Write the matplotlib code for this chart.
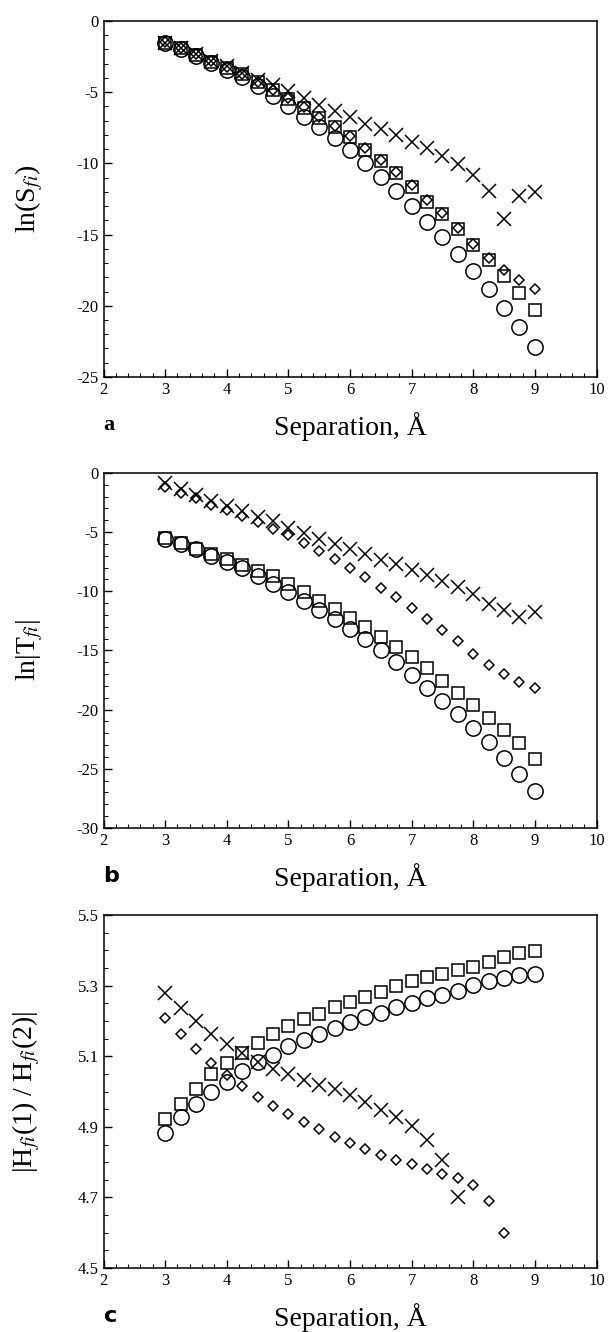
import matplotlib
matplotlib.use("Agg")
import matplotlib.pyplot as plt
import numpy as np
from matplotlib.ticker import MultipleLocator, FixedLocator, FormatStrFormatter

plt.rcParams['font.family'] = ['Liberation Serif', 'DejaVu Serif']
plt.rcParams['mathtext.fontset'] = 'stix'

# separation values, 3 to 9 A in steps of 0.25
sep = np.arange(3.0, 9.01, 0.25)

# panel a: ln(S_fi)
a_cross = [-1.53, -1.93, -2.34, -2.79, -3.2, -3.66, -4.14, -4.5, -4.91, -5.43, -5.9, -6.3, -6.76,
           -7.23, -7.61, -8.0, -8.52, -8.94, -9.48, -10.05, -10.82, -11.94, -13.9, -12.27, -12.03]
a_square = [-1.53, -1.93, -2.39, -2.85, -3.31, -3.76, -4.32, -4.88, -5.49, -6.13, -6.83, -7.46, -8.17,
            -9.06, -9.87, -10.7, -11.63, -12.69, -13.58, -14.63, -15.73, -16.78, -17.9, -19.12, -20.3]
a_diamond = [-1.47, -1.88, -2.34, -2.8, -3.25, -3.71, -4.27, -4.83, -5.39, -6.05, -6.73, -7.37, -8.06,
             -8.95, -9.76, -10.6, -11.53, -12.59, -13.48, -14.54, -15.64, -16.68, -17.49, -18.2, -18.81]
a_circle = [-1.57, -1.99, -2.46, -2.93, -3.44, -3.96, -4.57, -5.27, -5.97, -6.72, -7.42, -8.24, -9.06,
            -10.0, -10.93, -11.92, -12.97, -14.1, -15.19, -16.38, -17.53, -18.85, -20.18, -21.52, -22.9]

# panel b: ln|T_fi|
b_cross = [-0.87, -1.37, -1.84, -2.4, -2.82, -3.24, -3.72, -4.08, -4.64, -5.11, -5.56, -6.04, -6.45,
           -6.87, -7.35, -7.71, -8.21, -8.63, -9.11, -9.67, -10.23, -11.06, -11.62, -12.13, -11.76]
b_diamond = [-1.2, -1.65, -2.12, -2.68, -3.16, -3.6, -4.16, -4.72, -5.28, -5.9, -6.59, -7.29, -7.99,
             -8.83, -9.72, -10.5, -11.43, -12.38, -13.3, -14.22, -15.26, -16.23, -17.02, -17.69, -18.13]
b_square = [-5.48, -5.95, -6.4, -6.87, -7.29, -7.8, -8.27, -8.74, -9.39, -10.03, -10.78, -11.48, -12.24,
            -13.02, -13.86, -14.7, -15.59, -16.51, -17.57, -18.6, -19.59, -20.7, -21.68, -22.8, -24.2]
b_circle = [-5.56, -6.04, -6.45, -7.01, -7.51, -8.07, -8.69, -9.39, -10.09, -10.78, -11.54, -12.32, -13.16,
            -14.05, -14.98, -16.01, -17.07, -18.13, -19.3, -20.37, -21.54, -22.72, -24.1, -25.45, -26.9]

# panel c: |H_fi(1) / H_fi(2)|
c_cross = [5.279, 5.237, 5.2, 5.164, 5.134, 5.109, 5.084, 5.065, 5.051, 5.034, 5.018, 5.006, 4.99,
           4.971, 4.949, 4.928, 4.902, 4.864, 4.806, 4.70]
c_diamond = [5.208, 5.162, 5.121, 5.081, 5.048, 5.015, 4.985, 4.959, 4.936, 4.914, 4.893, 4.87, 4.853,
             4.838, 4.819, 4.806, 4.795, 4.782, 4.767, 4.754, 4.735, 4.691, 4.60]
c_square = [4.921, 4.966, 5.008, 5.049, 5.081, 5.109, 5.138, 5.162, 5.185, 5.206, 5.22, 5.239, 5.253,
            5.269, 5.283, 5.298, 5.312, 5.324, 5.333, 5.345, 5.354, 5.366, 5.382, 5.392, 5.397]
c_circle = [4.883, 4.927, 4.964, 4.999, 5.027, 5.058, 5.084, 5.105, 5.128, 5.147, 5.164, 5.181, 5.197,
            5.211, 5.223, 5.239, 5.251, 5.265, 5.275, 5.286, 5.302, 5.312, 5.322, 5.329, 5.333]

fig = plt.figure(figsize=(6.1, 13.32), dpi=100)

rects = [[0.1697, 0.717, 0.8082, 0.2673],
         [0.1697, 0.3784, 0.8082, 0.2665],
         [0.1697, 0.048, 0.8082, 0.265]]
ylabels = [r'ln(S$_{fi}$)', r'ln|T$_{fi}$|', r'|H$_{fi}$(1) / H$_{fi}$(2)|']
letters = ['a', 'b', 'c']
letter_fonts = ['Liberation Serif', 'DejaVu Sans', 'DejaVu Sans']
ylims = [(-25, 0), (-30, 0), (4.5, 5.5)]
ymajor = [np.arange(-25, 1, 5), np.arange(-30, 1, 5), [4.5, 4.7, 4.9, 5.1, 5.3, 5.5]]
yminor = [np.arange(-25, 1, 1), np.arange(-30, 1, 1), np.arange(4.5, 5.501, 0.05)]
fmts = ['%d', '%d', '%.1f']
ylab_x = [-0.118, -0.118, -0.125]
series = [(a_circle, a_square, a_diamond, a_cross),
          (b_circle, b_square, b_diamond, b_cross),
          (c_circle, c_square, c_diamond, c_cross)]

mk = dict(linestyle='none', markerfacecolor='none', markeredgecolor='k', markeredgewidth=1.1)

for i in range(3):
    ax = fig.add_axes(rects[i])
    circ, sq, dia, cro = series[i]
    ax.plot(sep[:len(circ)], circ, marker='o', markersize=11, **mk)
    ax.plot(sep[:len(sq)], sq, marker='s', markersize=9, **mk)
    ax.plot(sep[:len(dia)], dia, marker='D', markersize=5.2, **mk)
    ax.plot(sep[:len(cro)], cro, marker='x', markersize=9.5, **mk)

    ax.set_xlim(2, 10)
    ax.set_ylim(*ylims[i])
    ax.xaxis.set_major_locator(MultipleLocator(1))
    ax.xaxis.set_minor_locator(MultipleLocator(0.2))
    ax.yaxis.set_major_locator(FixedLocator(ymajor[i]))
    ax.yaxis.set_minor_locator(FixedLocator(yminor[i]))
    ax.yaxis.set_major_formatter(FormatStrFormatter(fmts[i]))
    ax.tick_params(which='both', direction='in', top=False, right=False, labelsize=12)
    ax.tick_params(which='major', length=6, width=1)
    ax.tick_params(which='minor', length=3, width=0.8)
    for s in ax.spines.values():
        s.set_linewidth(1.1)

    ax.set_xlabel('Separation, Å', fontsize=20)
    ax.xaxis.set_label_coords(0.5, -0.1)
    ax.set_ylabel(ylabels[i], fontsize=20)
    ax.yaxis.set_label_coords(ylab_x[i], 0.5)
    ax.text(0.0, -0.135, letters[i], transform=ax.transAxes, fontsize=16,
            fontweight='bold', family=letter_fonts[i], va='center', ha='left')

fig.savefig('out.png', dpi=100)
